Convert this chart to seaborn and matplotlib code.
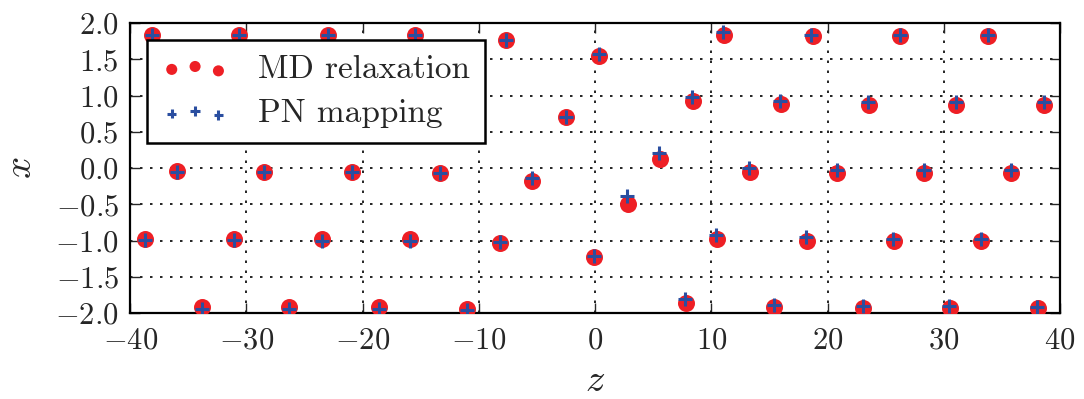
import numpy as np
import matplotlib
matplotlib.use("Agg")
import matplotlib.pyplot as plt
import seaborn as sns

# ─── DATA ───────────────────────────────────────────────────────────────────────
md_z = [-38.1, -30.6, -23.0, -15.5, -7.7, 0.3,
        11.1, 18.7, 26.2, 33.8,
        8.4, 16.0, 23.6, 31.0, 38.6,
        -2.5, 5.6,
        -36.0, -28.5, -20.9, -13.3, -5.4,
        13.3, 20.8, 28.3, 35.8,
        2.8, -0.1,
        -38.7, -31.1, -23.5, -15.9, -8.2,
        10.5, 18.2, 25.7, 33.2,
        -33.8, -26.3, -18.6, -11.0,
        7.8, 15.4, 23.0, 30.5, 38.1]
md_x = [1.83, 1.83, 1.83, 1.83, 1.77, 1.55,
        1.83, 1.82, 1.82, 1.82,
        0.93, 0.88, 0.87, 0.87, 0.87,
        0.70, 0.12,
        -0.04, -0.05, -0.05, -0.06, -0.17,
        -0.05, -0.07, -0.07, -0.07,
        -0.49, -1.23,
        -0.98, -0.98, -0.98, -0.98, -1.03,
        -0.97, -1.00, -1.00, -1.00,
        -1.91, -1.91, -1.91, -1.94,
        -1.86, -1.91, -1.93, -1.93, -1.93]

pn_z = [-38.1, -30.6, -23.0, -15.5, -7.7, 0.3,
        11.0, 18.6, 26.2, 33.8,
        8.3, 15.9, 23.5, 31.0, 38.6,
        -2.5, 5.5,
        -36.0, -28.5, -20.9, -13.3, -5.4,
        13.2, 20.8, 28.3, 35.8,
        2.7, -0.1,
        -38.7, -31.1, -23.5, -15.9, -8.2,
        10.4, 18.1, 25.6, 33.2,
        -33.8, -26.3, -18.6, -11.0,
        7.7, 15.4, 23.0, 30.4, 38.0]
pn_x = [1.83, 1.84, 1.83, 1.83, 1.77, 1.57,
        1.88, 1.84, 1.83, 1.83,
        0.98, 0.93, 0.91, 0.91, 0.91,
        0.71, 0.21,
        -0.05, -0.05, -0.05, -0.07, -0.14,
        0.00, -0.02, -0.03, -0.03,
        -0.38, -1.21,
        -0.99, -0.99, -1.00, -1.01, -1.02,
        -0.92, -0.95, -0.97, -0.98,
        -1.94, -1.94, -1.94, -1.96,
        -1.81, -1.88, -1.90, -1.90, -1.91]

z_ticks = [-40, -30, -20, -10, 0, 10, 20, 30, 40]
x_ticks = [-2.0, -1.5, -1.0, -0.5, 0.0, 0.5, 1.0, 1.5, 2.0]

RED = "#ee1f25"
BLUE = "#2a4ea0"

# ─── STYLE ──────────────────────────────────────────────────────────────────────
sns.set_style("white")
plt.rcParams["font.family"] = ["serif"]
plt.rcParams["font.serif"] = ["cmr10", "DejaVu Serif"]
plt.rcParams["mathtext.fontset"] = "cm"
plt.rcParams["axes.unicode_minus"] = False

fig, ax = plt.subplots(figsize=(10.84, 3.99), dpi=100)
fig.subplots_adjust(left=0.12, right=0.978, top=0.942, bottom=0.215)

sns.scatterplot(x=md_z, y=md_x, color=RED, s=150, linewidth=0,
                marker="o", label="MD relaxation", ax=ax, zorder=3)
sns.scatterplot(x=pn_z, y=pn_x, color=BLUE, s=110, linewidth=2.2,
                marker="+", label="PN mapping", ax=ax, zorder=4)

ax.set_xlim(-40, 40)
ax.set_ylim(-2, 2)
ax.set_xticks(z_ticks)
ax.set_yticks(x_ticks)
ax.set_xticklabels([f"${t}$" for t in z_ticks], fontsize=22)
ax.set_yticklabels([f"${t:.1f}$" for t in x_ticks], fontsize=22)
ax.tick_params(direction="in", length=7, width=1, top=True, right=True,
               bottom=True, left=True)
ax.tick_params(axis="x", pad=10)
ax.tick_params(axis="y", pad=8)
ax.grid(True, color="black", linestyle=(0, (1.5, 4.5)), linewidth=1.2)
for sp in ax.spines.values():
    sp.set_color("black")
    sp.set_linewidth(1.6)

ax.set_xlabel("$z$", fontsize=28, labelpad=6)
ax.set_ylabel("$x$", fontsize=28, labelpad=12)

leg = ax.legend(loc="upper left", scatterpoints=3, fontsize=24,
                markerscale=0.65, frameon=True, fancybox=False,
                borderaxespad=0.5, handlelength=2.0, handletextpad=0.9,
                borderpad=0.45, labelspacing=0.45)
leg.get_frame().set_edgecolor("black")
leg.get_frame().set_linewidth(1.8)
leg.get_frame().set_alpha(1)

fig.savefig("out.png", dpi=100)
